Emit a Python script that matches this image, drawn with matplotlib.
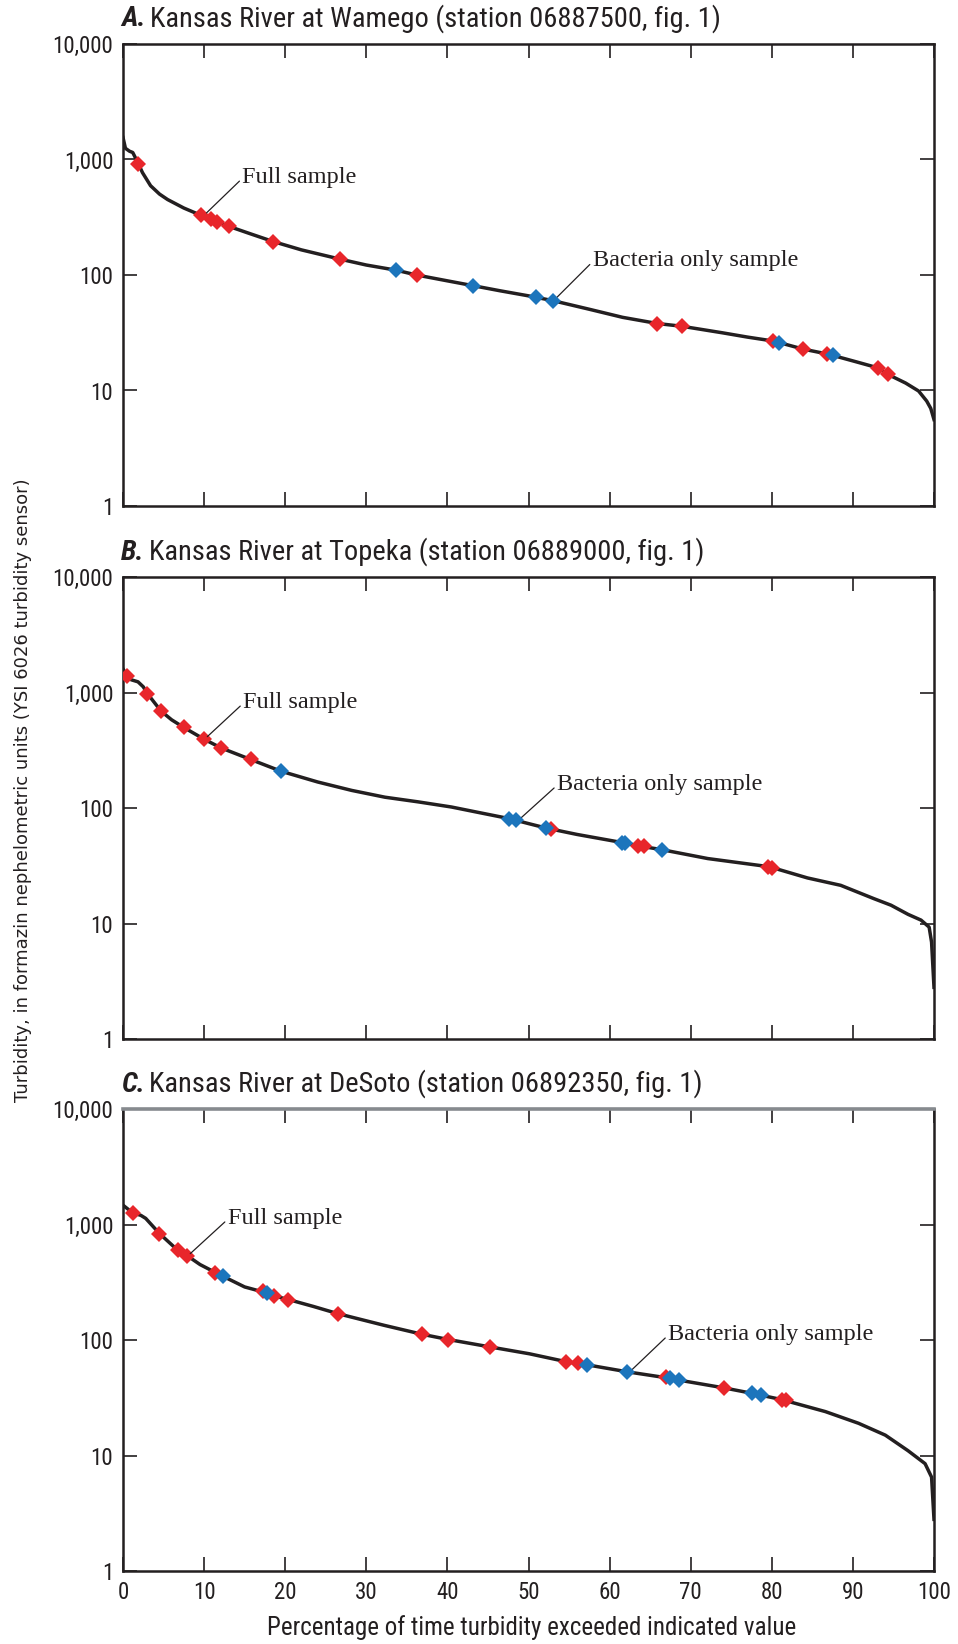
import numpy as np
import matplotlib
matplotlib.use("Agg")
import matplotlib.pyplot as plt
from matplotlib import font_manager
from matplotlib.ticker import FixedLocator, FixedFormatter, NullLocator

# Flow-duration style curves: percent of time exceeded vs turbidity (FNU)

# A. Wamego
a_pct = [0, 0.3, 0.8, 1.2, 1.8, 2.4, 3.4, 4.5, 5.5, 7.5, 9.6, 11.6, 13.1, 15.5, 18.5,
         22.0, 26.8, 30.0, 33.7, 36.2, 40.0, 43.1, 46.5, 50.0, 53.0, 57.5, 61.6, 65.9,
         68.9, 73.9, 77.0, 80.2, 83.9, 87.0, 90.3, 93.1, 94.3, 96.5, 98.1, 99.1, 99.6, 100]
a_val = [1550, 1250, 1180, 1150, 950, 770, 593, 502, 450, 380, 329, 289, 263, 230, 195,
         165, 137, 122, 110, 100, 89, 81, 73, 66, 60, 50.5, 43, 38,
         36, 31.6, 29, 26.8, 22.8, 20.6, 17.8, 15.7, 13.8, 11.6, 9.9, 8.1, 7.0, 5.6]
a_full_pct = [1.8, 9.6, 10.8, 11.6, 13.1, 18.5, 26.8, 36.2, 65.9, 68.9, 80.2, 83.9, 86.85, 93.1, 94.3]
a_full_val = [920, 329, 304, 289, 263, 195, 137, 100, 38, 36, 26.8, 22.8, 20.8, 15.7, 13.8]
a_bact_pct = [33.7, 43.1, 50.9, 52.96, 80.9, 87.5]
a_bact_val = [110, 81, 64, 60, 25.8, 20.4]

# B. Topeka
b_pct = [0, 0.5, 1.0, 1.85, 2.5, 3.0, 4.7, 6.0, 7.5, 10.0, 12.1, 15.75, 19.5, 24.0, 28.2,
         32.3, 36.4, 40.5, 44.0, 47.6, 50.1, 52.2, 56.0, 61.7, 64.0, 66.5, 72.1, 79.7,
         84.4, 88.5, 92.6, 94.7, 96.8, 98.4, 99.4, 99.7, 100]
b_val = [1600, 1385, 1290, 1237, 1120, 980, 689, 580, 498, 394, 331, 263, 208, 168, 142,
         124, 113, 102, 91, 81, 73, 67, 59, 50, 46.5, 43.5, 36.5, 31,
         24.8, 21.4, 16.4, 14.4, 12, 10.7, 9.3, 6.9, 2.8]
b_full_pct = [0.5, 3.0, 4.7, 7.5, 10.0, 12.1, 15.75, 52.8, 63.5, 64.2, 79.5, 80.0]
b_full_val = [1385, 980, 689, 498, 394, 331, 263, 66, 47, 46.5, 31, 30.5]
b_bact_pct = [19.5, 47.6, 48.5, 52.2, 61.5, 61.9, 66.5]
b_bact_val = [208, 81, 78, 67, 50, 49.5, 43.5]

# C. DeSoto
c_pct = [0, 1.2, 2.2, 2.8, 4.5, 6.75, 7.9, 9.5, 11.4, 12.3, 15.0, 17.5, 18.6, 20.4, 23.5,
         26.5, 32.2, 36.9, 40.1, 45.3, 50.1, 54.6, 57.2, 62.2, 67.1, 68.5, 74.1, 77.6,
         81.2, 86.6, 90.7, 94.0, 96.8, 98.9, 99.7, 100]
c_val = [1470, 1260, 1200, 1130, 835, 598, 538, 450, 384, 357, 288, 258, 241, 224, 195,
         169, 134, 112, 101, 87, 76, 65, 61, 53, 47, 45, 38.5, 34.5,
         30.5, 24, 19, 15, 11, 8.5, 6.5, 2.8]
c_full_pct = [1.2, 4.5, 6.75, 7.9, 11.4, 17.25, 18.6, 20.4, 26.5, 36.9, 40.1, 45.3, 54.6, 56.1,
              67.0, 74.1, 81.2, 81.7]
c_full_val = [1260, 835, 598, 538, 384, 264, 241, 224, 169, 112, 101, 87, 65, 63,
              47.5, 38.5, 30.5, 30]
c_bact_pct = [12.3, 17.75, 57.2, 62.2, 67.4, 68.5, 77.6, 78.7]
c_bact_val = [357, 256, 61, 53, 47, 45, 34.5, 33.5]

titles = [("A.", "Kansas River at Wamego (station 06887500, fig. 1)"),
          ("B.", "Kansas River at Topeka (station 06889000, fig. 1)"),
          ("C.", "Kansas River at DeSoto (station 06892350, fig. 1)")]

# annotation anchors: (text pct, text value, arrow pct, arrow value)
full_notes = [(14.7, 700, 10.3, 345), (14.8, 820, 10.4, 415), (12.9, 1130, 8.3, 560)]
bact_notes = [(57.9, 133, 53.4, 63), (53.5, 160, 48.9, 80), (67.2, 112, 62.6, 54)]

y_ticks = [1, 10, 100, 1000, 10000]
y_labels = ["1", "10", "100", "1,000", "10,000"]
x_ticks = list(range(0, 101, 10))

INK = "#231f20"
RED = "#e8262b"
BLUE = "#1c75bc"


def pick_narrow():
    # look for a condensed sans face; fall back to plain DejaVu Sans
    fonts = font_manager.fontManager.ttflist
    for name in ["Liberation Sans Narrow", "Roboto Condensed", "Open Sans Condensed",
                 "DejaVu Sans Condensed"]:
        if any(f.name == name for f in fonts):
            return name, "normal", True
    for name in ["DejaVu Sans", "Roboto", "Open Sans", "Noto Sans", "Liberation Sans"]:
        for f in fonts:
            if f.name == name and "condensed" in str(f.stretch):
                return name, f.stretch, True
    return "DejaVu Sans", "normal", False


NARROW, STRETCH, IS_NARROW = pick_narrow()
names = {f.name for f in font_manager.fontManager.ttflist}
SERIF = "Liberation Serif" if "Liberation Serif" in names else "DejaVu Serif"

title_size = 20.5 if IS_NARROW else 16
tick_size = 16.5 if IS_NARROW else 13
xlab_size = 18 if IS_NARROW else 14

fig = plt.figure(figsize=(9.58, 16.44), dpi=100)
W, H = 958.0, 1644.0
left_px, right_px = 123, 934
panel_px = [(44, 506), (577, 1039), (1109, 1571)]

data = [(a_pct, a_val, a_full_pct, a_full_val, a_bact_pct, a_bact_val),
        (b_pct, b_val, b_full_pct, b_full_val, b_bact_pct, b_bact_val),
        (c_pct, c_val, c_full_pct, c_full_val, c_bact_pct, c_bact_val)]

for i, (top, bot) in enumerate(panel_px):
    ax = fig.add_axes([left_px / W, 1 - bot / H, (right_px - left_px) / W, (bot - top) / H])
    pct, val, fp, fv, bp, bv = data[i]
    ax.plot(pct, val, color=INK, lw=2.5, zorder=2, solid_joinstyle="round")
    ax.plot(fp, fv, ls="none", marker="D", ms=8.4, color=RED, mew=0, zorder=3)
    ax.plot(bp, bv, ls="none", marker="D", ms=8.4, color=BLUE, mew=0, zorder=4)

    ax.set_yscale("log")
    ax.set_ylim(1, 10000)
    ax.set_xlim(0, 100)
    ax.yaxis.set_major_locator(FixedLocator(y_ticks))
    ax.yaxis.set_major_formatter(FixedFormatter(y_labels))
    ax.yaxis.set_minor_locator(NullLocator())
    ax.xaxis.set_major_locator(FixedLocator(x_ticks))
    ax.tick_params(direction="in", length=10, width=1.2, color=INK, top=True, right=True,
                   labelsize=tick_size, labelcolor=INK, pad=7)
    for lab in ax.get_xticklabels() + ax.get_yticklabels():
        lab.set_family(NARROW)
        lab.set_stretch(STRETCH)
    if i < 2:
        ax.tick_params(labelbottom=False)
    for side in ax.spines.values():
        side.set_linewidth(1.8)
        side.set_color(INK)
    if i == 2:
        ax.spines["top"].set_color("#868a8e")
        ax.spines["top"].set_linewidth(2.6)

    tx, ty, axx, axy = full_notes[i]
    ax.annotate("Full sample", xy=(axx, axy), xytext=(tx, ty), fontsize=17.5,
                family=SERIF, color=INK, ha="left", va="center",
                arrowprops=dict(arrowstyle="-", color=INK, lw=0.9, shrinkA=0, shrinkB=0,
                                relpos=(0, 0.45)))
    tx, ty, axx, axy = bact_notes[i]
    ax.annotate("Bacteria only sample", xy=(axx, axy), xytext=(tx, ty), fontsize=17.5,
                family=SERIF, color=INK, ha="left", va="center",
                arrowprops=dict(arrowstyle="-", color=INK, lw=0.9, shrinkA=0, shrinkB=0,
                                relpos=(0, 0.45)))

    letter, rest = titles[i]
    t1 = fig.text(121 / W, 1 - (top - 25) / H, letter, fontsize=title_size, family=NARROW,
                  stretch=STRETCH, weight="bold", style="italic", color=INK,
                  ha="left", va="center")
    ax.annotate(rest, xy=(1, 0.5), xycoords=t1, xytext=(3, 0), textcoords="offset points",
                fontsize=title_size, family=NARROW, stretch=STRETCH, color=INK,
                ha="left", va="center", annotation_clip=False)

fig.text(23 / W, 1 - 790 / H,
         "Turbidity, in formazin nephelometric units (YSI 6026 turbidity sensor)",
         rotation=90, fontsize=13, color=INK, ha="center", va="center")
fig.text(532 / W, 1 - 1628 / H, "Percentage of time turbidity exceeded indicated value",
         fontsize=xlab_size, family=NARROW, stretch=STRETCH, color=INK,
         ha="center", va="center")

fig.savefig("out.png", dpi=100, facecolor="white")
